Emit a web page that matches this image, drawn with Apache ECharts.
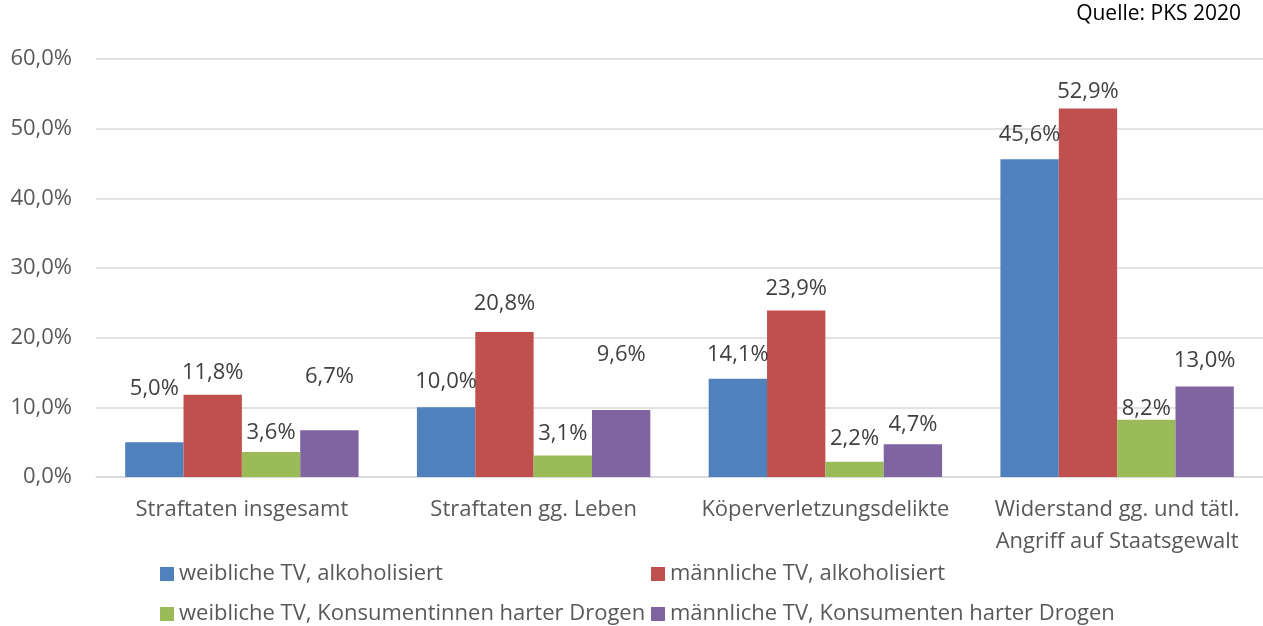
<!DOCTYPE html>
<html>
<head>
<meta charset="utf-8">
<script src="https://cdn.jsdelivr.net/npm/echarts@6/dist/echarts.min.js"></script>
<style>
  html, body { margin: 0; padding: 0; background: #fff; }
  #chart { width: 1263px; height: 626px; }
</style>
</head>
<body>
<div id="chart"></div>
<script>
// Daten (PKS 2020)
const categories = ['Straftaten insgesamt', 'Straftaten gg. Leben', 'Köperverletzungsdelikte', 'Widerstand gg. und tätl.\nAngriff auf Staatsgewalt']
const seriesNames = [
  'weibliche TV, alkoholisiert',
  'männliche TV, alkoholisiert',
  'weibliche TV, Konsumentinnen harter Drogen',
  'männliche TV, Konsumenten harter Drogen',
]
const weiblichAlk = [5.0, 10.0, 14.1, 45.6]
const maennlichAlk = [11.8, 20.8, 23.9, 52.9]
const weiblichDrogen = [3.6, 3.1, 2.2, 8.2]
const maennlichDrogen = [6.7, 9.6, 4.7, 13.0]
const yTicks = [0, 10, 20, 30, 40, 50, 60]

// label lift (px) - labels in the original are moved by hand in some places
const labelLift = [
  [31, 4, 2, 3],
  [0, 6, 0, -5],
  [-3, 0, 1, -11],
  [32, 33, -2, 4],
]

const colors = ['#4f81bd', '#c0504d', '#9bbb59', '#8064a2']
const font = '"Open Sans", sans-serif'
const textColor = '#595959'
const fmt = v => v.toFixed(1).replace('.', ',') + '%'

const chart = echarts.init(document.getElementById('chart'))

const values = [weiblichAlk, maennlichAlk, weiblichDrogen, maennlichDrogen]
const series = values.map((arr, i) => ({
  name: seriesNames[i],
  type: 'bar',
  barGap: '0%',
  barCategoryGap: '20%',
  itemStyle: { color: colors[i] },
  label: {
    show: true,
    position: 'top',
    distance: 11,
    color: '#404040',
    fontFamily: font,
    fontSize: 22,
    formatter: p => fmt(p.value),
  },
  data: arr.map((v, j) => ({ value: v, label: { offset: [0, -labelLift[i][j]] } })),
}))

const legendPos = [[160, 563], [651, 563], [160, 603], [651, 603]]
const legends = seriesNames.map((n, i) => ({
  data: [n],
  left: legendPos[i][0],
  top: legendPos[i][1],
  padding: 0,
  icon: 'rect',
  itemWidth: 14,
  itemHeight: 14,
  itemGap: 5,
  selectedMode: false,
  textStyle: { fontFamily: font, fontSize: 22, color: textColor },
}))

chart.setOption({
  animation: false,
  backgroundColor: '#fff',
  grid: { left: 96, width: 1176, top: 59, bottom: 149 },
  legend: legends,
  graphic: [{
    type: 'text',
    right: 22,
    top: 4,
    style: { text: 'Quelle: PKS 2020', fontFamily: font, fontSize: 21, fill: '#000' },
  }],
  xAxis: {
    type: 'category',
    data: categories,
    axisTick: { show: false },
    axisLine: { lineStyle: { color: '#d9d9d9', width: 1.5 } },
    axisLabel: {
      interval: 0,
      margin: 17,
      color: textColor,
      fontFamily: font,
      fontSize: 22,
      lineHeight: 32,
    },
  },
  yAxis: {
    type: 'value',
    min: yTicks[0],
    max: yTicks[yTicks.length - 1],
    interval: 10,
    axisLine: { show: false },
    axisTick: { show: false },
    splitLine: { lineStyle: { color: '#d9d9d9', width: 1.5 } },
    axisLabel: {
      margin: 24,
      color: textColor,
      fontFamily: font,
      fontSize: 22,
      formatter: v => fmt(v),
    },
  },
  series: series,
})
</script>
</body>
</html>
